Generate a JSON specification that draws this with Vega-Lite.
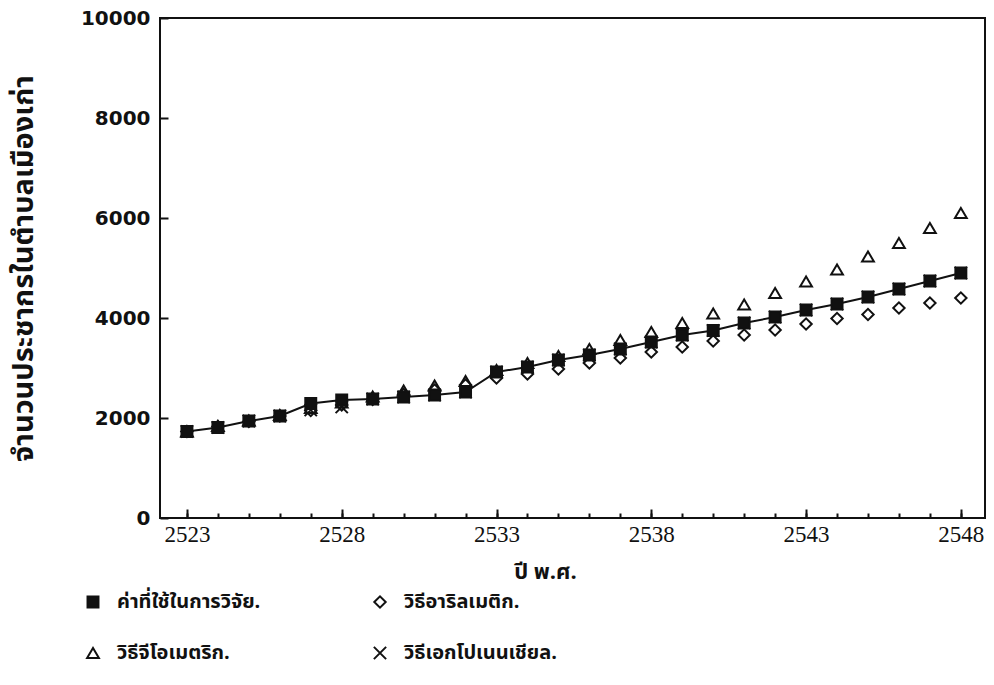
{
  "$schema": "https://vega.github.io/schema/vega-lite/v6.json",
  "width": 825,
  "height": 500,
  "autosize": "none",
  "padding": {"left": 160, "top": 18, "right": 9, "bottom": 167},
  "background": "white",
  "config": {
    "view": {"stroke": "#111", "strokeWidth": 2},
    "font": "Noto Sans Thai",
    "axis": {"grid": false, "domain": false, "tickColor": "#111", "tickWidth": 2, "labelColor": "#111", "titleColor": "#111"}
  },
  "datasets": {
    "pop": [
      {"year": 2523, "series": "ค่าที่ใช้ในการวิจัย.", "value": 1730},
      {"year": 2524, "series": "ค่าที่ใช้ในการวิจัย.", "value": 1810},
      {"year": 2525, "series": "ค่าที่ใช้ในการวิจัย.", "value": 1940},
      {"year": 2526, "series": "ค่าที่ใช้ในการวิจัย.", "value": 2040},
      {"year": 2527, "series": "ค่าที่ใช้ในการวิจัย.", "value": 2290},
      {"year": 2528, "series": "ค่าที่ใช้ในการวิจัย.", "value": 2360},
      {"year": 2529, "series": "ค่าที่ใช้ในการวิจัย.", "value": 2380},
      {"year": 2530, "series": "ค่าที่ใช้ในการวิจัย.", "value": 2420},
      {"year": 2531, "series": "ค่าที่ใช้ในการวิจัย.", "value": 2460},
      {"year": 2532, "series": "ค่าที่ใช้ในการวิจัย.", "value": 2520},
      {"year": 2533, "series": "ค่าที่ใช้ในการวิจัย.", "value": 2920},
      {"year": 2534, "series": "ค่าที่ใช้ในการวิจัย.", "value": 3020},
      {"year": 2535, "series": "ค่าที่ใช้ในการวิจัย.", "value": 3160},
      {"year": 2536, "series": "ค่าที่ใช้ในการวิจัย.", "value": 3260},
      {"year": 2537, "series": "ค่าที่ใช้ในการวิจัย.", "value": 3380},
      {"year": 2538, "series": "ค่าที่ใช้ในการวิจัย.", "value": 3520},
      {"year": 2539, "series": "ค่าที่ใช้ในการวิจัย.", "value": 3660},
      {"year": 2540, "series": "ค่าที่ใช้ในการวิจัย.", "value": 3750},
      {"year": 2541, "series": "ค่าที่ใช้ในการวิจัย.", "value": 3900},
      {"year": 2542, "series": "ค่าที่ใช้ในการวิจัย.", "value": 4020},
      {"year": 2543, "series": "ค่าที่ใช้ในการวิจัย.", "value": 4160},
      {"year": 2544, "series": "ค่าที่ใช้ในการวิจัย.", "value": 4280},
      {"year": 2545, "series": "ค่าที่ใช้ในการวิจัย.", "value": 4420},
      {"year": 2546, "series": "ค่าที่ใช้ในการวิจัย.", "value": 4580},
      {"year": 2547, "series": "ค่าที่ใช้ในการวิจัย.", "value": 4740},
      {"year": 2548, "series": "ค่าที่ใช้ในการวิจัย.", "value": 4900},
      {"year": 2523, "series": "วิธีอาริลเมติก.", "value": 1730},
      {"year": 2524, "series": "วิธีอาริลเมติก.", "value": 1830},
      {"year": 2525, "series": "วิธีอาริลเมติก.", "value": 1930},
      {"year": 2526, "series": "วิธีอาริลเมติก.", "value": 2040},
      {"year": 2527, "series": "วิธีอาริลเมติก.", "value": 2150},
      {"year": 2528, "series": "วิธีอาริลเมติก.", "value": 2260},
      {"year": 2529, "series": "วิธีอาริลเมติก.", "value": 2370},
      {"year": 2530, "series": "วิธีอาริลเมติก.", "value": 2470},
      {"year": 2531, "series": "วิธีอาริลเมติก.", "value": 2560},
      {"year": 2532, "series": "วิธีอาริลเมติก.", "value": 2660},
      {"year": 2533, "series": "วิธีอาริลเมติก.", "value": 2800},
      {"year": 2534, "series": "วิธีอาริลเมติก.", "value": 2880},
      {"year": 2535, "series": "วิธีอาริลเมติก.", "value": 2980},
      {"year": 2536, "series": "วิธีอาริลเมติก.", "value": 3100},
      {"year": 2537, "series": "วิธีอาริลเมติก.", "value": 3200},
      {"year": 2538, "series": "วิธีอาริลเมติก.", "value": 3320},
      {"year": 2539, "series": "วิธีอาริลเมติก.", "value": 3420},
      {"year": 2540, "series": "วิธีอาริลเมติก.", "value": 3540},
      {"year": 2541, "series": "วิธีอาริลเมติก.", "value": 3660},
      {"year": 2542, "series": "วิธีอาริลเมติก.", "value": 3760},
      {"year": 2543, "series": "วิธีอาริลเมติก.", "value": 3880},
      {"year": 2544, "series": "วิธีอาริลเมติก.", "value": 3990},
      {"year": 2545, "series": "วิธีอาริลเมติก.", "value": 4070},
      {"year": 2546, "series": "วิธีอาริลเมติก.", "value": 4200},
      {"year": 2547, "series": "วิธีอาริลเมติก.", "value": 4300},
      {"year": 2548, "series": "วิธีอาริลเมติก.", "value": 4400},
      {"year": 2523, "series": "วิธีจีโอเมตริก.", "value": 1730},
      {"year": 2524, "series": "วิธีจีโอเมตริก.", "value": 1840},
      {"year": 2525, "series": "วิธีจีโอเมตริก.", "value": 1950},
      {"year": 2526, "series": "วิธีจีโอเมตริก.", "value": 2060},
      {"year": 2527, "series": "วิธีจีโอเมตริก.", "value": 2200},
      {"year": 2528, "series": "วิธีจีโอเมตริก.", "value": 2310},
      {"year": 2529, "series": "วิธีจีโอเมตริก.", "value": 2430},
      {"year": 2530, "series": "วิธีจีโอเมตริก.", "value": 2550},
      {"year": 2531, "series": "วิธีจีโอเมตริก.", "value": 2650},
      {"year": 2532, "series": "วิธีจีโอเมตริก.", "value": 2740},
      {"year": 2533, "series": "วิธีจีโอเมตริก.", "value": 2960},
      {"year": 2534, "series": "วิธีจีโอเมตริก.", "value": 3100},
      {"year": 2535, "series": "วิธีจีโอเมตริก.", "value": 3240},
      {"year": 2536, "series": "วิธีจีโอเมตริก.", "value": 3380},
      {"year": 2537, "series": "วิธีจีโอเมตริก.", "value": 3560},
      {"year": 2538, "series": "วิธีจีโอเมตริก.", "value": 3720},
      {"year": 2539, "series": "วิธีจีโอเมตริก.", "value": 3900},
      {"year": 2540, "series": "วิธีจีโอเมตริก.", "value": 4090},
      {"year": 2541, "series": "วิธีจีโอเมตริก.", "value": 4270},
      {"year": 2542, "series": "วิธีจีโอเมตริก.", "value": 4500},
      {"year": 2543, "series": "วิธีจีโอเมตริก.", "value": 4730},
      {"year": 2544, "series": "วิธีจีโอเมตริก.", "value": 4970},
      {"year": 2545, "series": "วิธีจีโอเมตริก.", "value": 5230},
      {"year": 2546, "series": "วิธีจีโอเมตริก.", "value": 5500},
      {"year": 2547, "series": "วิธีจีโอเมตริก.", "value": 5800},
      {"year": 2548, "series": "วิธีจีโอเมตริก.", "value": 6100},
      {"year": 2523, "series": "วิธีเอกโปเนนเชียล.", "value": 1730},
      {"year": 2524, "series": "วิธีเอกโปเนนเชียล.", "value": 1810},
      {"year": 2525, "series": "วิธีเอกโปเนนเชียล.", "value": 1940},
      {"year": 2526, "series": "วิธีเอกโปเนนเชียล.", "value": 2040},
      {"year": 2527, "series": "วิธีเอกโปเนนเชียล.", "value": 2160},
      {"year": 2528, "series": "วิธีเอกโปเนนเชียล.", "value": 2220},
      {"year": 2529, "series": "วิธีเอกโปเนนเชียล.", "value": 2380},
      {"year": 2530, "series": "วิธีเอกโปเนนเชียล.", "value": 2420},
      {"year": 2531, "series": "วิธีเอกโปเนนเชียล.", "value": 2460},
      {"year": 2532, "series": "วิธีเอกโปเนนเชียล.", "value": 2520},
      {"year": 2533, "series": "วิธีเอกโปเนนเชียล.", "value": 2920},
      {"year": 2534, "series": "วิธีเอกโปเนนเชียล.", "value": 3020},
      {"year": 2535, "series": "วิธีเอกโปเนนเชียล.", "value": 3160},
      {"year": 2536, "series": "วิธีเอกโปเนนเชียล.", "value": 3260},
      {"year": 2537, "series": "วิธีเอกโปเนนเชียล.", "value": 3380},
      {"year": 2538, "series": "วิธีเอกโปเนนเชียล.", "value": 3520},
      {"year": 2539, "series": "วิธีเอกโปเนนเชียล.", "value": 3660},
      {"year": 2540, "series": "วิธีเอกโปเนนเชียล.", "value": 3750},
      {"year": 2541, "series": "วิธีเอกโปเนนเชียล.", "value": 3900},
      {"year": 2542, "series": "วิธีเอกโปเนนเชียล.", "value": 4020},
      {"year": 2543, "series": "วิธีเอกโปเนนเชียล.", "value": 4160},
      {"year": 2544, "series": "วิธีเอกโปเนนเชียล.", "value": 4280},
      {"year": 2545, "series": "วิธีเอกโปเนนเชียล.", "value": 4420},
      {"year": 2546, "series": "วิธีเอกโปเนนเชียล.", "value": 4580},
      {"year": 2547, "series": "วิธีเอกโปเนนเชียล.", "value": 4740},
      {"year": 2548, "series": "วิธีเอกโปเนนเชียล.", "value": 4900}
    ]
  },
  "data": {"name": "pop"},
  "layer": [
    {
      "transform": [{"filter": "datum.series === 'ค่าที่ใช้ในการวิจัย.'"}],
      "mark": {"type": "line", "color": "#111", "strokeWidth": 2},
      "encoding": {
        "x": {
          "field": "year", "type": "quantitative",
          "scale": {"domain": [2522.13, 2548.78], "nice": false, "zero": false},
          "axis": {
            "orient": "bottom", "offset": -9,
            "values": [2523, 2528, 2533, 2538, 2543, 2548], "format": "d",
            "tickSize": 9, "labelPadding": 5, "labelBaseline": "top",
            "labelFont": "Liberation Serif", "labelFontSize": 23, "labelFontWeight": "normal",
            "title": "ปี พ.ศ.", "titleFont": "Noto Sans Thai", "titleFontSize": 22, "titleFontWeight": "bold",
            "titleX": 385, "titleY": 69, "titleBaseline": "alphabetic", "titleAlign": "center"
          }
        },
        "y": {
          "field": "value", "type": "quantitative",
          "scale": {"domain": [0, 10000], "nice": false},
          "axis": {
            "orient": "left", "offset": -8,
            "values": [0, 2000, 4000, 6000, 8000, 10000], "format": "d",
            "tickSize": 8, "labelPadding": 10,
            "labelFont": "DejaVu Sans", "labelFontSize": 20, "labelFontWeight": "bold",
            "title": "จำนวนประชากรในตำบลเมืองเก่า", "titleFont": "Noto Sans Thai", "titleFontSize": 29, "titleFontWeight": "bold",
            "titleX": -145, "titleY": 250, "titleAngle": 270, "titleAlign": "center", "titleBaseline": "middle"
          }
        }
      }
    },
    {
      "mark": {"type": "point", "strokeWidth": 2, "opacity": 1, "stroke": "#111"},
      "encoding": {
        "x": {
          "field": "year", "type": "quantitative",
          "axis": {"orient": "bottom", "offset": -5, "values": [2523,2524,2525,2526,2527,2528,2529,2530,2531,2532,2533,2534,2535,2536,2537,2538,2539,2540,2541,2542,2543,2544,2545,2546,2547,2548], "tickSize": 5, "labels": false, "title": null}
        },
        "y": {"field": "value", "type": "quantitative", "axis": null},
        "order": {"field": "series", "sort": "descending"},
        "shape": {
          "field": "series", "type": "nominal",
          "scale": {
            "domain": ["ค่าที่ใช้ในการวิจัย.", "วิธีอาริลเมติก.", "วิธีจีโอเมตริก.", "วิธีเอกโปเนนเชียล."],
            "range": ["square", "diamond", "triangle-up", "M-1,-1L1,1M-1,1L1,-1"]
          },
          "legend": {
            "title": null, "orient": "none", "legendX": -77, "legendY": 574,
            "columns": 2, "direction": "horizontal", "columnPadding": 108, "rowPadding": 30,
            "symbolStrokeWidth": 2, "symbolStrokeColor": "#111", "symbolOffset": 0, "labelOffset": 14,
            "labelFont": "Noto Sans Thai", "labelFontSize": 20, "labelFontWeight": "bold", "labelColor": "#111", "labelLimit": 400,
            "padding": 0
          }
        },
        "fill": {
          "field": "series", "type": "nominal",
          "scale": {
            "domain": ["ค่าที่ใช้ในการวิจัย.", "วิธีอาริลเมติก.", "วิธีจีโอเมตริก.", "วิธีเอกโปเนนเชียล."],
            "range": ["#111", "transparent", "transparent", "transparent"]
          }
        },
        "size": {
          "field": "series", "type": "nominal",
          "scale": {
            "domain": ["ค่าที่ใช้ในการวิจัย.", "วิธีอาริลเมติก.", "วิธีจีโอเมตริก.", "วิธีเอกโปเนนเชียล."],
            "range": [120, 150, 110, 60]
          }
        }
      }
    }
  ],
  "resolve": {"axis": {"x": "independent", "y": "independent"}}
}
